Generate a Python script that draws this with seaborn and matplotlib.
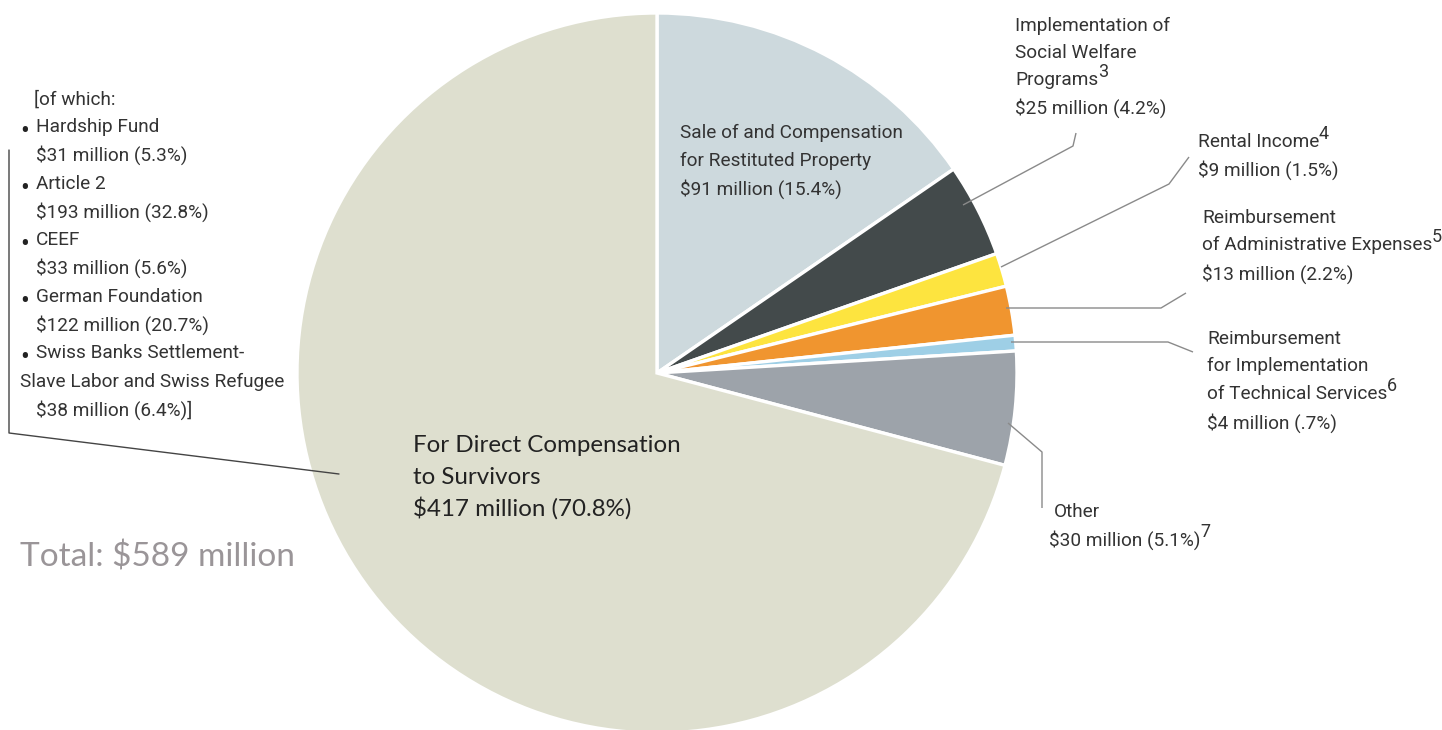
import matplotlib
matplotlib.use("Agg")
import matplotlib.pyplot as plt
import seaborn as sns

# Distribution of funds, in millions of dollars and percent of total
categories = [
    "Sale of and Compensation for Restituted Property",
    "Implementation of Social Welfare Programs",
    "Rental Income",
    "Reimbursement of Administrative Expenses",
    "Reimbursement for Implementation of Technical Services",
    "Other",
    "For Direct Compensation to Survivors",
]
amounts = [91, 25, 9, 13, 4, 30, 417]
shares = [15.4, 4.2, 1.5, 2.2, 0.7, 5.1, 70.8]
colors = ["#cdd9dd", "#434a4b", "#fde43f", "#f0952f", "#9ecfe6", "#9da3aa", "#dedfcf"]

sub_names = ["Hardship Fund", "Article 2", "CEEF", "German Foundation",
             "Swiss Banks Settlement-\nSlave Labor and Swiss Refugee"]
sub_amounts = [31, 193, 33, 122, 38]
sub_shares = [5.3, 32.8, 5.6, 20.7, 6.4]
total = 589

sns.set_theme(style="white")
plt.rcParams["font.family"] = ["Roboto", "DejaVu Sans"]

W, H = 1442, 730
fig = plt.figure(figsize=(W / 100, H / 100), dpi=100)
ax = fig.add_axes([0, 0, 1, 1])


def py(y):
    return H - y


ax.pie(shares, colors=colors, startangle=90, counterclock=False,
       center=(657, py(373)), radius=360,
       wedgeprops=dict(edgecolor="white", linewidth=2.4))
ax.set_xlim(0, W)
ax.set_ylim(0, H)
ax.set_aspect("equal")
ax.axis("off")

small = dict(fontsize=13.7, color="#333333")
fig.canvas.draw()
renderer = fig.canvas.get_renderer()


def line(x, y, s, sup=None, **kw):
    t = ax.text(x, py(y), s, ha="left", va="center", **kw)
    if sup is not None:
        bb = t.get_window_extent(renderer=renderer)
        ax.text(bb.x1 - 0.5, py(y) + 8, sup, ha="left", va="center",
                fontsize=kw.get("fontsize", 13.7) * 0.95, color=kw.get("color"))
    return t


def fmt_pct(p):
    s = f"{p:.1f}%"
    return s[1:] if s.startswith("0.") else s


def value_line(i):
    return f"${amounts[i]} million ({fmt_pct(shares[i])})"


# Labels inside and around the pie
line(680, 133, "Sale of and Compensation", **small)
line(680, 161, "for Restituted Property", **small)
line(680, 189, value_line(0), **small)

line(1015, 26, "Implementation of", **small)
line(1015, 53, "Social Welfare", **small)
line(1015, 80, "Programs", sup="3", **small)
line(1015, 108, value_line(1), **small)

line(1198, 142, "Rental Income", sup="4", **small)
line(1198, 170, value_line(2), **small)

line(1202, 218, "Reimbursement", **small)
line(1202, 245, "of Administrative Expenses", sup="5", **small)
line(1202, 274, value_line(3), **small)

line(1207, 339, "Reimbursement", **small)
line(1207, 366, "for Implementation", **small)
line(1207, 394, "of Technical Services", sup="6", **small)
line(1207, 423, value_line(4), **small)

line(1054, 512, "Other", **small)
line(1049, 540, value_line(5), sup="7", **small)

big = dict(fontsize=17.4, color="#222222", family=["Lato", "DejaVu Sans"])
line(413, 446, "For Direct Compensation", **big)
line(413, 477, "to Survivors", **big)
line(413, 508, value_line(6), **big)

# Breakdown of direct compensation
line(34, 100, "[of which:", **small)
y = 127
for k, (name, amt, sh) in enumerate(zip(sub_names, sub_amounts, sub_shares)):
    parts = name.split("\n")
    ax.text(20, py(y + 5), "\u2022", ha="left", va="center", fontsize=19, color="#222222")
    line(36, y, parts[0], **small)
    y += 28.3
    for extra in parts[1:]:
        line(20, y, extra, **small)
        y += 28.3
    closing = "]" if k == len(sub_names) - 1 else ""
    line(36, y, f"${amt} million ({sh}%){closing}", **small)
    y += 28.3

ax.text(20, py(557), f"Total: ${total} million", ha="left", va="center",
        fontsize=24, color="#9a9598", family=["Lato", "DejaVu Sans"])

# Leader lines
grey = dict(color="#8a8a8a", linewidth=1.0, solid_capstyle="butt")
leaders = [
    [(963, 205), (1073, 146), (1076, 133)],
    [(1001, 267), (1169, 184), (1189, 157)],
    [(1006, 308), (1161, 308), (1186, 293)],
    [(1011, 342), (1168, 342), (1193, 352)],
    [(1008, 423), (1042, 452), (1042, 508)],
]
for pts in leaders:
    ax.plot([p[0] for p in pts], [py(p[1]) for p in pts], **grey)
ax.plot([339, 9, 9], [py(474), py(433), py(150)], color="#444444", linewidth=1.0)

fig.savefig("out.png", dpi=100)
